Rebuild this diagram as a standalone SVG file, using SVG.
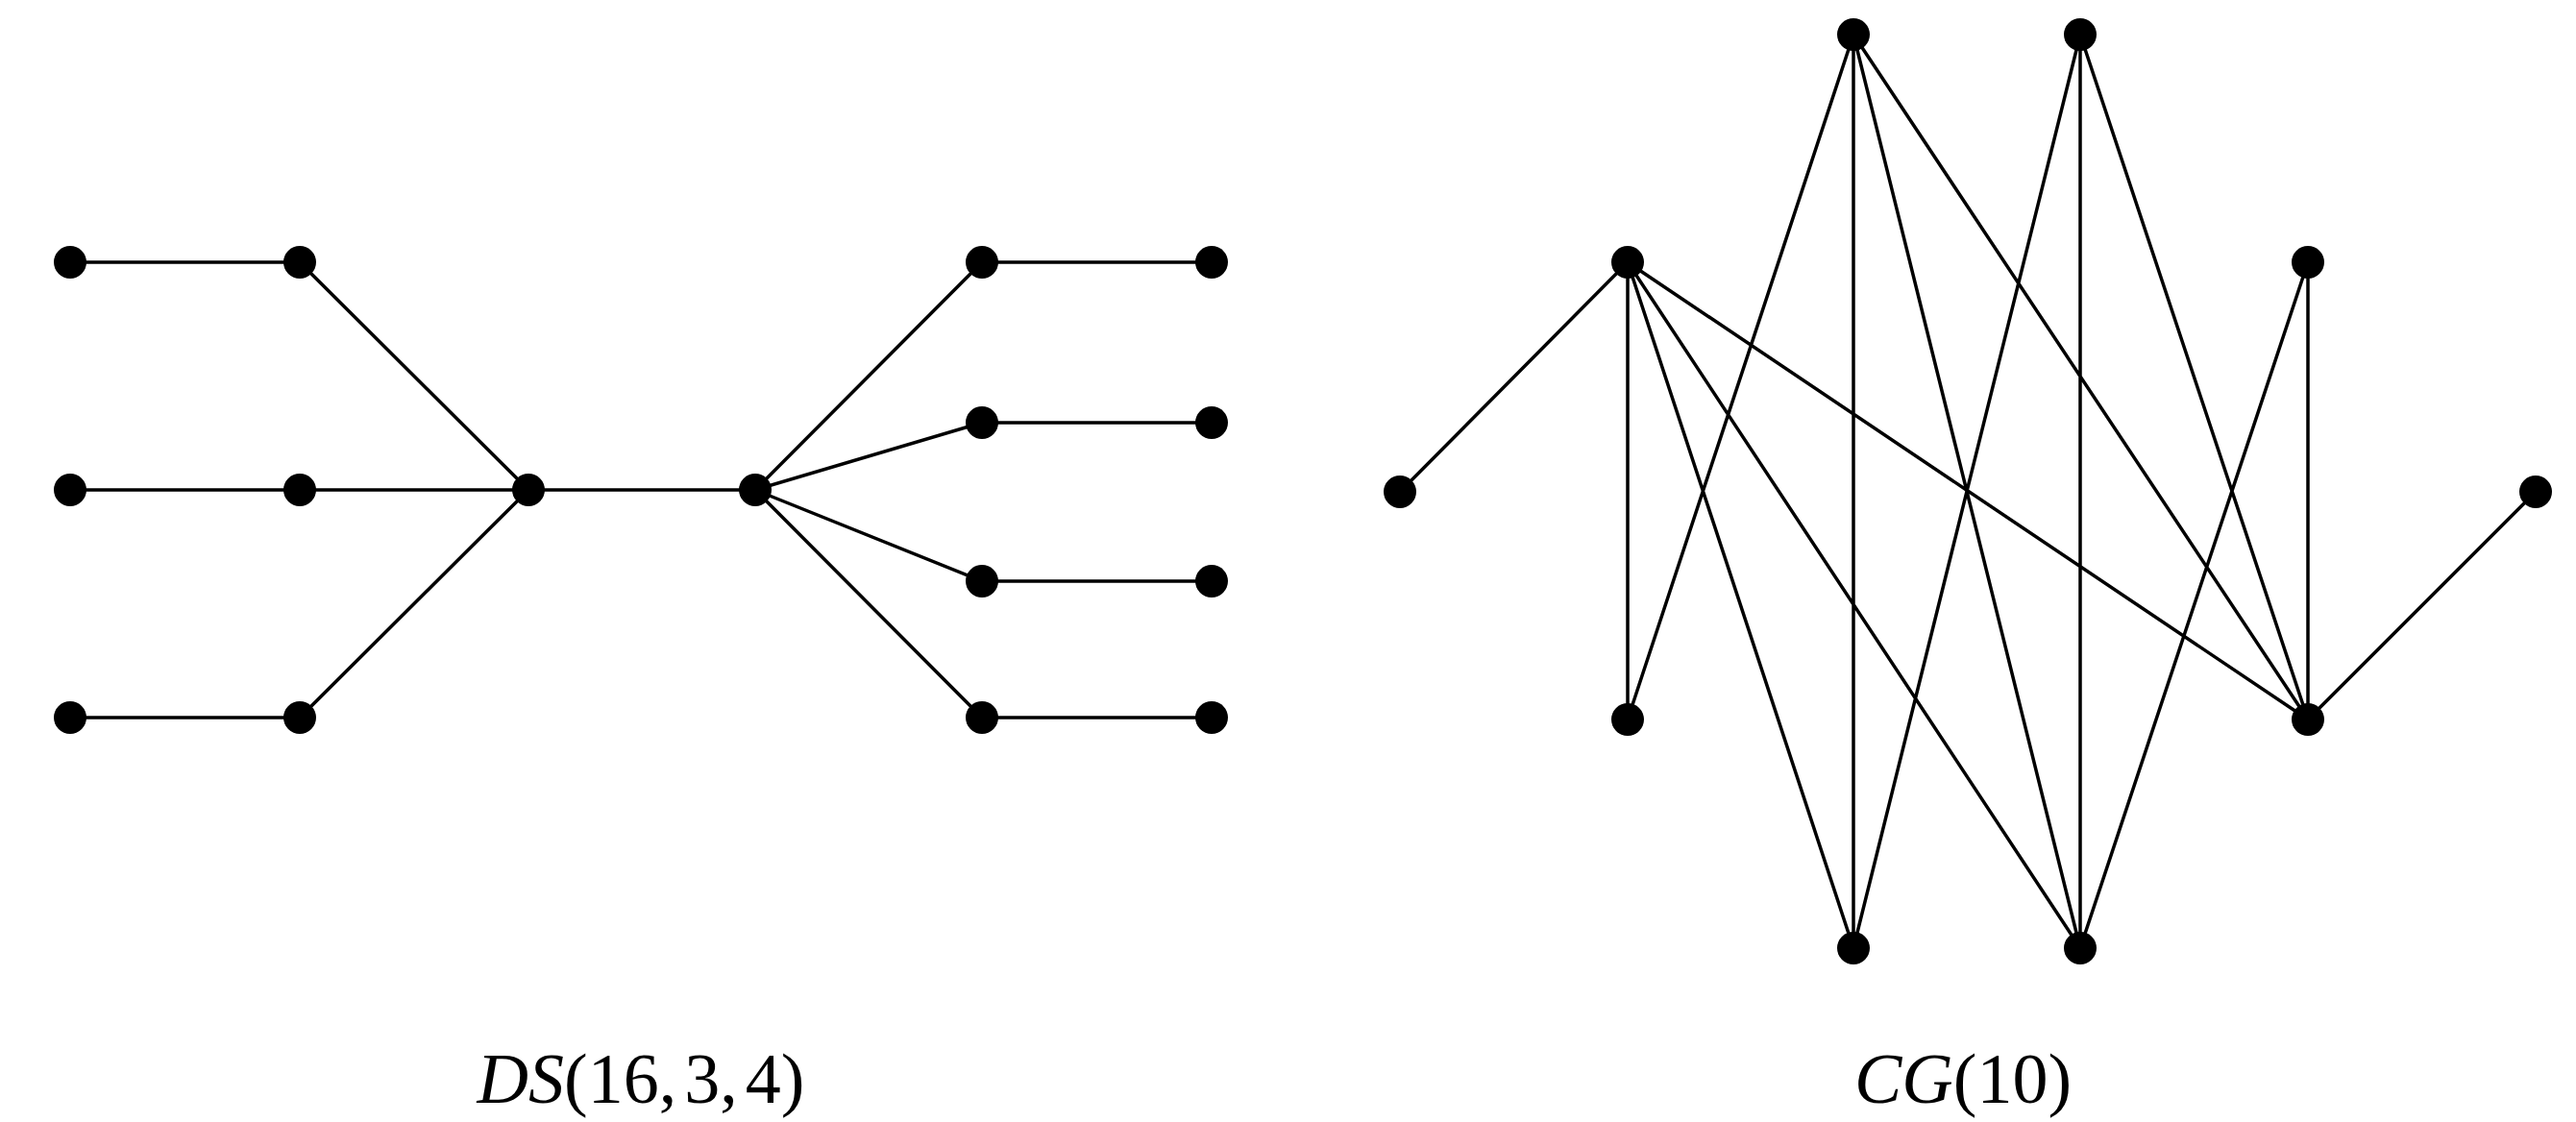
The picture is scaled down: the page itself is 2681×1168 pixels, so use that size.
<svg xmlns="http://www.w3.org/2000/svg" width="2681" height="1168" viewBox="0 0 2681 1168">
<style>
.e{stroke:#000;stroke-width:3.5;fill:none}
.n{fill:#000}
.t{font-family:"Liberation Serif",serif;font-size:74px;fill:#000}
</style>
<rect width="2681" height="1168" fill="#fff"/>
<g id="edges">
<path class="e" d="M73,273H312 M73,510H550 M73,747H312 M312,273L550,510 M312,747L550,510 M550,510H786 M786,510L1022,273 M786,510L1022,440 M786,510L1022,605 M786,510L1022,747 M1022,273H1261 M1022,440H1261 M1022,605H1261 M1022,747H1261"/>
<path class="e" d="M1457,512L1694,273 M1694,273V749 M1694,273L1929,987 M1694,273L2165,987 M1694,273L2402,749 M1929,36L1694,749 M1929,36V987 M1929,36L2165,987 M1929,36L2402,749 M2165,36L1929,987 M2165,36V987 M2165,36L2402,749 M2402,273V749 M2402,273L2165,987 M2402,749L2639,512"/>
</g>
<g id="ds-nodes">
<circle class="n" cx="73" cy="273" r="17"/><circle class="n" cx="312" cy="273" r="17"/>
<circle class="n" cx="73" cy="510" r="17"/><circle class="n" cx="312" cy="510" r="17"/>
<circle class="n" cx="73" cy="747" r="17"/><circle class="n" cx="312" cy="747" r="17"/>
<circle class="n" cx="550" cy="510" r="17"/><circle class="n" cx="786" cy="510" r="17"/>
<circle class="n" cx="1022" cy="273" r="17"/><circle class="n" cx="1261" cy="273" r="17"/>
<circle class="n" cx="1022" cy="440" r="17"/><circle class="n" cx="1261" cy="440" r="17"/>
<circle class="n" cx="1022" cy="605" r="17"/><circle class="n" cx="1261" cy="605" r="17"/>
<circle class="n" cx="1022" cy="747" r="17"/><circle class="n" cx="1261" cy="747" r="17"/>
</g>
<g id="cg-nodes">
<circle class="n" cx="1457" cy="512" r="17"/><circle class="n" cx="1694" cy="273" r="17"/>
<circle class="n" cx="1694" cy="749" r="17"/><circle class="n" cx="1929" cy="36" r="17"/>
<circle class="n" cx="2165" cy="36" r="17"/><circle class="n" cx="2402" cy="273" r="17"/>
<circle class="n" cx="2402" cy="749" r="17"/><circle class="n" cx="2639" cy="512" r="17"/>
<circle class="n" cx="1929" cy="987" r="17"/><circle class="n" cx="2165" cy="987" r="17"/>
</g>
<g id="labels">
<text class="t" x="667" y="1148" text-anchor="middle"><tspan font-style="italic">DS</tspan>(16,<tspan dx="8">3,</tspan><tspan dx="8">4)</tspan></text>
<text class="t" x="2043" y="1148" text-anchor="middle"><tspan font-style="italic">CG</tspan>(10)</text>
</g>
</svg>
